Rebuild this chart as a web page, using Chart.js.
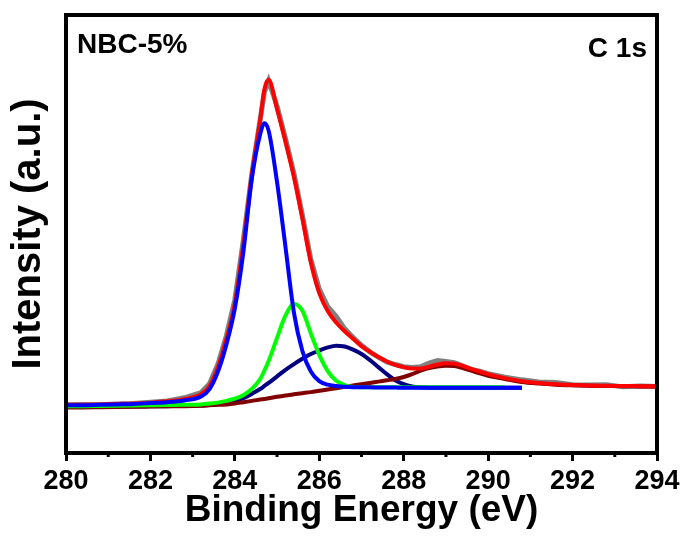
<!DOCTYPE html>
<html>
<head>
<meta charset="utf-8">
<script src="https://cdn.jsdelivr.net/npm/chart.js@4"></script>
<style>
  body { margin: 0; background: #fff; }
  #wrap { width: 690px; height: 539px; }
</style>
</head>
<body>
<div id="wrap"><canvas id="xpsChart" width="690" height="539"></canvas></div>
<script>
// binding energy grid (eV)
const energy = [280.0, 280.4, 280.8, 281.2, 281.6, 282.0, 282.4, 282.8, 283.2, 283.4, 283.6, 283.8,
  284.0, 284.2, 284.4, 284.6, 284.7, 284.8, 285.0, 285.2, 285.4, 285.6, 285.8,
  286.0, 286.2, 286.4, 286.6, 286.8, 287.0, 287.2, 287.4, 287.6, 287.8,
  288.0, 288.2, 288.4, 288.6, 288.8, 289.0, 289.2, 289.4, 289.6, 289.8,
  290.0, 290.4, 290.8, 291.2, 291.6, 292.0, 292.4, 292.8, 293.2, 293.6, 294.0];

// measured spectrum (grey)
const rawCounts = [11.0, 11.1, 11.0, 11.2, 11.3, 11.6, 11.9, 12.6, 13.8, 15.8, 20.3, 26.8,
  35.0, 48.5, 63.6, 76.2, 82.4, 85.0, 79.2, 71.8, 63.8, 54.3, 44.2,
  37.4, 33.4, 31.2, 28.4, 26.4, 24.6, 23.1, 21.9, 20.8, 20.2,
  19.7, 19.5, 19.7, 20.5, 21.1, 20.9, 20.6, 19.9, 19.1, 18.7,
  18.1, 17.3, 16.7, 16.2, 16.1, 15.6, 15.5, 15.6, 15.1, 15.3, 15.2];

// fitted envelope (red)
const envelope = [11.0, 11.0, 11.1, 11.2, 11.3, 11.5, 11.8, 12.3, 13.4, 15.3, 19.6, 26.0,
  34.0, 47.5, 63.3, 76.0, 83.0, 85.2, 78.5, 71.0, 63.0, 53.5, 43.5,
  36.5, 32.4, 29.8, 27.8, 26.1, 24.4, 23.1, 21.9, 20.9, 20.1,
  19.6, 19.3, 19.3, 19.7, 20.2, 20.5, 20.4, 19.9, 19.2, 18.6,
  18.0, 17.1, 16.4, 16.0, 15.7, 15.5, 15.4, 15.35, 15.3, 15.25, 15.2];

// C-C / C=C component (blue)
const peakCC = [10.9, 10.9, 11.0, 11.1, 11.2, 11.4, 11.6, 12.0, 12.9, 14.6, 18.6, 24.8,
  33.0, 45.8, 62.5, 72.8, 75.3, 73.6, 61.8, 47.0, 32.0, 23.3, 18.6,
  16.4, 15.6, 15.3, 15.1, 15.0, 15.0, 15.0, 14.95, 14.95, 14.95,
  14.9, 14.9, 14.9, 14.9, 14.9, 14.9, 14.9, 14.9, 14.9, 14.9,
  14.9, 14.9, 14.9, null, null, null, null, null, null, null, null];

// C-N component (green)
const peakCN = [10.7, 10.7, 10.75, 10.8, 10.85, 10.9, 10.95, 11.0, 11.1, 11.3, 11.5, 11.9,
  12.4, 13.2, 14.6, 16.9, 18.8, 21.0, 26.3, 31.4, 34.0, 32.5, 27.3,
  22.4, 18.7, 16.5, 15.5, 15.1, 15.0, 15.0, 15.0, 15.0, 15.0,
  15.0, 15.0, 15.0, 15.0, 15.0, 15.0, 15.0, 15.0, 15.0, 15.0,
  15.0, 15.0, null, null, null, null, null, null, null, null, null];

// C-O component (navy)
const peakCO = [10.5, 10.5, 10.55, 10.6, 10.6, 10.65, 10.7, 10.75, 10.85, 10.95, 11.1, 11.4,
  11.8, 12.5, 13.5, 14.6, 15.3, 16.0, 17.5, 19.0, 20.3, 21.5, 22.6,
  23.4, 24.1, 24.5, 24.3, 23.6, 22.6, 21.2, 19.6, 18.0, 16.6,
  15.7, 15.2, 15.0, 14.9, 14.9, 14.9, 14.9, 14.9, 14.9, 14.9,
  14.9, 14.9, 14.9, null, null, null, null, null, null, null, null];

// O-C=O component on background (dark red)
const peakOCO = [10.4, 10.4, 10.45, 10.5, 10.55, 10.6, 10.65, 10.7, 10.8, 10.9, 11.0, 11.1,
  11.3, 11.6, 11.9, 12.2, 12.35, 12.5, 12.85, 13.15, 13.4, 13.65, 13.9,
  14.2, 14.5, 14.8, 15.1, 15.4, 15.7, 16.0, 16.3, 16.6, 16.9,
  17.35, 18.0, 18.8, 19.4, 19.75, 19.9, 19.85, 19.4, 18.8, 18.2,
  17.6, 16.9, 16.2, 15.85, 15.6, 15.45, 15.35, 15.3, 15.25, 15.2, 15.2];

const xTicksMajor = [280, 282, 284, 286, 288, 290, 292, 294];
const xTicksMinor = [281, 283, 285, 287, 289, 291, 293];

function pts(values) {
  return energy.map((e, i) => ({ x: e, y: values[i] }));
}

function curve(label, values, color, width, smooth) {
  return {
    label: label,
    data: pts(values),
    borderColor: color,
    backgroundColor: color,
    borderWidth: width,
    pointRadius: 0,
    spanGaps: false,
    cubicInterpolationMode: smooth ? 'monotone' : 'default',
    tension: smooth ? 0.4 : 0
  };
}

const FONT = 'Liberation Sans';
Chart.defaults.font.family = FONT;
Chart.defaults.color = '#000';

const framePlugin = {
  id: 'frame',
  afterDraw(chart) {
    const { ctx, chartArea: a } = chart;
    const xs = chart.scales.x;
    ctx.save();
    // minor ticks below the frame
    ctx.strokeStyle = '#000';
    ctx.lineWidth = 3;
    xTicksMinor.forEach(v => {
      const px = xs.getPixelForValue(v);
      ctx.beginPath();
      ctx.moveTo(px, a.bottom);
      ctx.lineTo(px, a.bottom + 4);
      ctx.stroke();
    });
    ctx.lineWidth = 4;
    ctx.strokeRect(a.left, a.top, a.right - a.left, a.bottom - a.top);
    // sample / region labels
    ctx.fillStyle = '#000';
    ctx.font = 'bold 28px "' + FONT + '"';
    ctx.textBaseline = 'alphabetic';
    ctx.textAlign = 'left';
    ctx.fillText('NBC-5%', a.left + 11, 53);
    ctx.textAlign = 'right';
    ctx.fillText('C 1s', a.right - 10, 57);
    ctx.restore();
  }
};

new Chart(document.getElementById('xpsChart'), {
  type: 'line',
  data: {
    datasets: [
      curve('C-C', peakCC, '#0000FF', 4, true),
      curve('C-N', peakCN, '#00FF00', 4, true),
      curve('Fit', envelope, '#FF0000', 4, true),
      curve('O-C=O', peakOCO, '#800000', 4, true),
      curve('C-O', peakCO, '#000080', 4, true),
      curve('Raw', rawCounts, '#808080', 5, false)
    ]
  },
  options: {
    responsive: false,
    devicePixelRatio: 1,
    animation: false,
    layout: { padding: { top: 15, right: 33, left: 0, bottom: 0 } },
    plugins: { legend: { display: false }, tooltip: { enabled: false } },
    scales: {
      x: {
        type: 'linear',
        min: 280,
        max: 294,
        afterFit(scale) { scale.height = 86; },
        afterBuildTicks(scale) { scale.ticks = xTicksMajor.map(v => ({ value: v })); },
        border: { display: false },
        grid: {
          display: true,
          drawOnChartArea: false,
          drawTicks: true,
          tickLength: 8,
          tickWidth: 3,
          tickColor: '#000'
        },
        ticks: {
          padding: 4,
          maxRotation: 0,
          font: { size: 27, weight: 'bold' },
          callback: v => v
        },
        title: {
          display: true,
          text: 'Binding Energy (eV)',
          font: { size: 37, weight: 'bold' },
          padding: { top: 0, bottom: 6 }
        }
      },
      y: {
        min: 0,
        max: 100,
        afterFit(scale) { scale.width = 66; },
        border: { display: false },
        grid: { display: false },
        ticks: { display: false },
        title: {
          display: true,
          text: 'Intensity (a.u.)',
          font: { size: 40, weight: 'bold' },
          padding: { top: 5, bottom: 0 }
        }
      }
    }
  },
  plugins: [framePlugin]
});
</script>
</body>
</html>
